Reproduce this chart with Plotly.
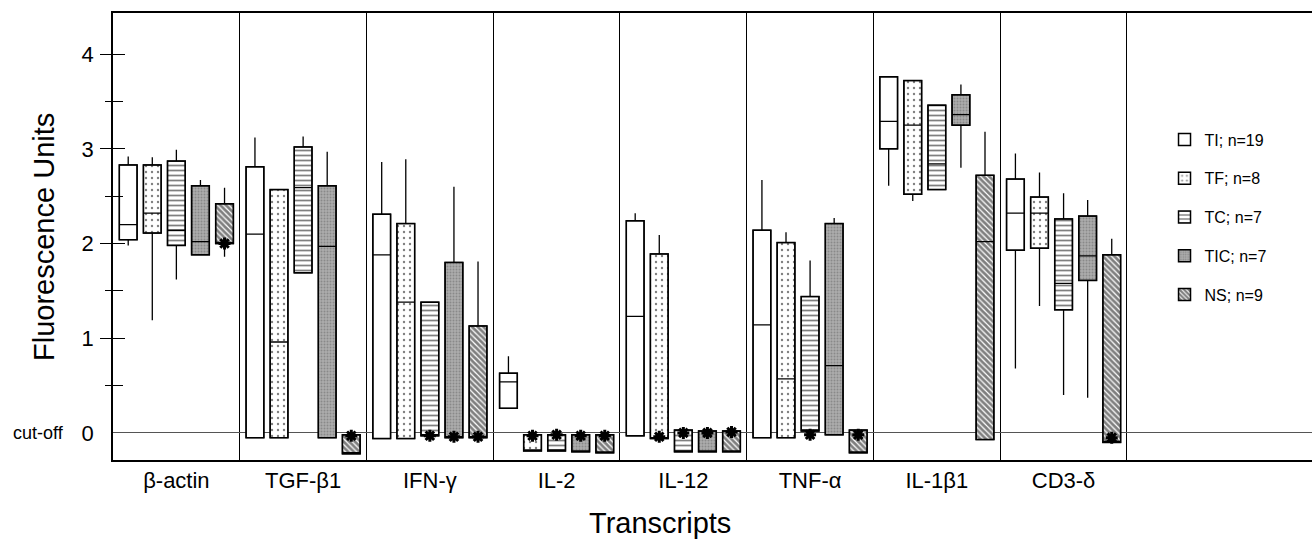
import plotly.graph_objects as go

# ---------------- data ----------------
transcripts = ["β-actin", "TGF-β1", "IFN-γ", "IL-2", "IL-12", "TNF-α", "IL-1β1", "CD3-δ"]
series_names = ["TI; n=19", "TF; n=8", "TC; n=7", "TIC; n=7", "NS; n=9"]

# per series: lower whisker, Q1, median, Q3, upper whisker (one value per transcript)
TI_lo  = [1.98, -0.05, -0.06, 0.26, -0.03, -0.05, 2.61, 0.68]
TI_q1  = [2.04, -0.05, -0.06, 0.26, -0.03, -0.05, 3.00, 1.93]
TI_med = [2.20,  2.10,  1.88, 0.54,  1.23,  1.14, 3.29, 2.32]
TI_q3  = [2.83,  2.81,  2.31, 0.63,  2.24,  2.14, 3.76, 2.68]
TI_hi  = [2.92,  3.12,  2.86, 0.81,  2.32,  2.67, 3.76, 2.95]

TF_lo  = [1.19, -0.05, -0.06, -0.19, -0.06, -0.05, 2.45, 1.34]
TF_q1  = [2.11, -0.05, -0.06, -0.19, -0.06, -0.05, 2.52, 1.95]
TF_med = [2.32,  0.96,  1.38, -0.19, -0.06,  0.57, 3.25, 2.32]
TF_q3  = [2.83,  2.57,  2.21, -0.02,  1.89,  2.01, 3.72, 2.49]
TF_hi  = [2.91,  2.57,  2.89, -0.02,  2.09,  2.12, 3.72, 2.75]

TC_lo  = [1.62, 1.69, -0.03, -0.19, -0.20, 0.02, 2.57, 0.40]
TC_q1  = [1.98, 1.69, -0.03, -0.19, -0.20, 0.02, 2.57, 1.30]
TC_med = [2.14, 2.59, -0.03, -0.19, -0.20, 0.02, 2.84, 1.58]
TC_q3  = [2.87, 3.02,  1.38, -0.02,  0.03, 1.44, 3.46, 2.26]
TC_hi  = [2.99, 3.13,  1.38, -0.02,  0.03, 1.82, 3.46, 2.53]

TIC_lo  = [1.88, -0.05, -0.05, -0.20, -0.20, -0.02, 2.80, 0.37]
TIC_q1  = [1.88, -0.05, -0.05, -0.20, -0.20, -0.02, 3.25, 1.61]
TIC_med = [2.02,  1.97, -0.05, -0.20, -0.20,  0.71, 3.36, 1.87]
TIC_q3  = [2.61,  2.61,  1.80, -0.02,  0.02,  2.21, 3.57, 2.29]
TIC_hi  = [2.67,  2.97,  2.60, -0.02,  0.02,  2.27, 3.68, 2.46]

NS_lo  = [1.86, -0.22, -0.05, -0.21, -0.20, -0.21, -0.07, -0.10]
NS_q1  = [2.00, -0.22, -0.05, -0.21, -0.20, -0.21, -0.07, -0.10]
NS_med = [2.00, -0.22, -0.05, -0.21, -0.20, -0.21,  2.02, -0.10]
NS_q3  = [2.42, -0.02,  1.13, -0.02,  0.02,  0.03,  2.72,  1.88]
NS_hi  = [2.59, -0.02,  1.81, -0.02,  0.02,  0.03,  3.18,  2.05]

# asterisks: transcript index, series index, value
ast_group  = [0, 1, 2, 2, 2, 3, 3, 3, 3, 4, 4, 4, 4, 5, 5, 7]
ast_series = [4, 4, 2, 3, 4, 1, 2, 3, 4, 1, 2, 3, 4, 2, 4, 4]
ast_value  = [2.0, -0.03, -0.03, -0.04, -0.04, -0.03, -0.02, -0.03, -0.03,
              -0.04, 0.0, 0.0, 0.01, -0.02, -0.02, -0.05]

y_tick_vals = [0, 1, 2, 3, 4]
y_tick_text = ["0", "1", "2", "3", "4"]

# ---------------- styling ----------------
stats = [
    (TI_lo, TI_q1, TI_med, TI_q3, TI_hi),
    (TF_lo, TF_q1, TF_med, TF_q3, TF_hi),
    (TC_lo, TC_q1, TC_med, TC_q3, TC_hi),
    (TIC_lo, TIC_q1, TIC_med, TIC_q3, TIC_hi),
    (NS_lo, NS_q1, NS_med, NS_q3, NS_hi),
]
patterns = [
    dict(shape="", bgcolor="white"),
    dict(shape=".", fgcolor="black", bgcolor="white", size=6, solidity=0.12),
    dict(shape="-", fgcolor="black", bgcolor="white", size=5, solidity=0.35),
    dict(shape=".", fgcolor="#666666", bgcolor="#adadad", size=3, solidity=0.35),
    dict(shape="\\", fgcolor="black", bgcolor="white", size=4, solidity=0.7),
]
fills = ["white", "white", "white", "#adadad", "white"]
spacing = 0.19
bw = 0.14
FONT = "Liberation Sans, Arial, sans-serif"

groups = list(range(len(transcripts)))

fig = go.Figure()
for j, (name, st) in enumerate(zip(series_names, stats)):
    lo, q1, med, q3, hi = st
    xs = [g + (j - 2) * spacing for g in groups]
    fig.add_trace(go.Bar(
        x=xs, y=[b - a for a, b in zip(q1, q3)], base=q1, width=bw,
        name=name, legendgroup=name,
        marker=dict(color=fills[j], pattern=patterns[j],
                    line=dict(color="black", width=1.5)),
        hoverinfo="skip",
    ))
    fig.add_trace(go.Box(
        x=xs, q1=q1, median=med, q3=q3, lowerfence=lo, upperfence=hi,
        width=bw, whiskerwidth=0, boxpoints=False,
        fillcolor="rgba(0,0,0,0)", line=dict(color="black", width=1.3),
        showlegend=False, legendgroup=name, hoverinfo="skip",
    ))

fig.add_trace(go.Scatter(
    x=[g + (s - 2) * spacing for g, s in zip(ast_group, ast_series)],
    y=ast_value, mode="markers", showlegend=False, hoverinfo="skip",
    marker=dict(symbol="asterisk-open", size=10, color="black",
                line=dict(color="black", width=3)),
))

# invisible traces holding the extra tick axes
fig.add_trace(go.Scatter(x=[0], y=[0], yaxis="y2", mode="markers",
                         marker=dict(opacity=0), showlegend=False, hoverinfo="skip"))
fig.add_trace(go.Scatter(x=[0], y=[0], yaxis="y3", mode="markers",
                         marker=dict(opacity=0), showlegend=False, hoverinfo="skip"))

yrange = [-0.286, 4.434]
fig.update_layout(
    width=1312, height=542,
    margin=dict(l=113, r=0, t=13, b=82),
    paper_bgcolor="white", plot_bgcolor="white",
    barmode="overlay", boxmode="overlay",
    font=dict(family=FONT, color="black"),
    showlegend=True,
    legend=dict(x=0.877, y=0.755, xanchor="left", yanchor="top",
                font=dict(size=16, family=FONT), tracegroupgap=15,
                bgcolor="rgba(0,0,0,0)"),
    xaxis=dict(
        range=[-0.5, 8.96], showline=True, linecolor="black", linewidth=1.5,
        mirror=True, zeroline=False, showgrid=False,
        tickmode="array", tickvals=groups, ticktext=transcripts, ticks="",
        tickfont=dict(size=22, family=FONT),
        minor=dict(tickmode="array", tickvals=[g + 0.5 for g in groups],
                   showgrid=True, gridcolor="black", gridwidth=1, ticks=""),
    ),
    yaxis=dict(
        range=yrange, showline=True, linecolor="black", linewidth=1.5,
        showgrid=False, zeroline=True, zerolinecolor="#555555", zerolinewidth=1,
        tickmode="array", tickvals=y_tick_vals, ticktext=y_tick_text, ticks="",
        ticklabelstandoff=13, tickfont=dict(size=22, family=FONT),
    ),
    yaxis2=dict(
        range=yrange, overlaying="y", side="left", showgrid=False, zeroline=False,
        showticklabels=False, tickmode="array", tickvals=[1, 2, 3, 4], ticks="outside",
        ticklen=12, tickwidth=1.2, tickcolor="black",
        minor=dict(tickmode="array", tickvals=[0.5, 1.5, 2.5, 3.5], ticks="outside",
                   ticklen=7, tickwidth=1.2, tickcolor="black"),
    ),
    yaxis3=dict(
        range=yrange, overlaying="y", side="left", showgrid=False, zeroline=False,
        showticklabels=False, tickmode="array", tickvals=[1, 2, 3, 4], ticks="inside",
        ticklen=12, tickwidth=1.2, tickcolor="black",
        minor=dict(tickmode="array", tickvals=[0.5, 1.5, 2.5, 3.5], ticks="inside",
                   ticklen=10, tickwidth=1.2, tickcolor="black"),
    ),
    annotations=[
        dict(text="Fluorescence Units", textangle=-90, xref="paper", yref="paper",
             x=-0.058, y=0.5, xanchor="center", yanchor="middle", showarrow=False,
             font=dict(size=29, family=FONT)),
        dict(text="Transcripts", xref="paper", yref="paper", x=0.456, y=-0.141,
             xanchor="center", yanchor="middle", showarrow=False,
             font=dict(size=29, family=FONT)),
        dict(text="cut-off", xref="paper", yref="y", x=-0.085, y=0,
             xanchor="left", yanchor="middle", showarrow=False,
             font=dict(size=18, family=FONT)),
    ],
)

fig.write_html("out.html")
